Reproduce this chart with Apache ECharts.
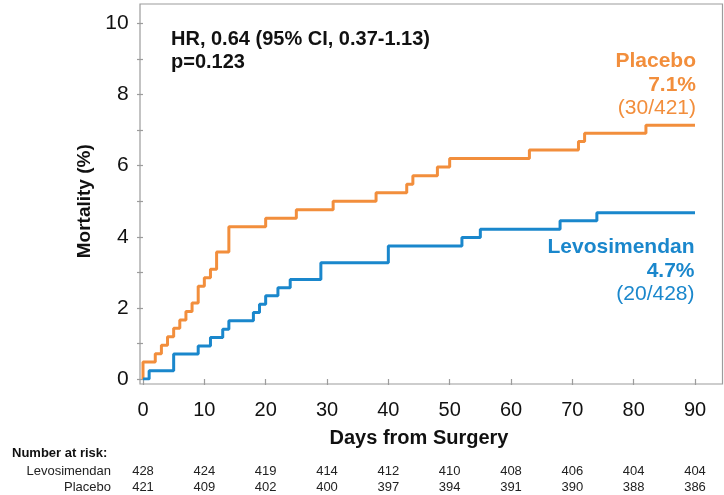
<!DOCTYPE html>
<html>
<head>
<meta charset="utf-8">
<script src="https://cdn.jsdelivr.net/npm/echarts@6/dist/echarts.min.js"></script>
<style>
  html, body { margin: 0; padding: 0; background: #fff; }
  #chart { width: 724px; height: 495px; }
</style>
</head>
<body>
<div id="chart"></div>
<script>
// Kaplan-Meier cumulative mortality (%), step changes by day after surgery
const placeboDays = [0, 0, 2, 3, 4, 5, 6, 7, 8, 9, 10, 11, 12, 14, 20, 25, 31, 38, 43, 44, 48, 50, 63, 71, 72, 82, 90];
const placeboMortality = [0, 0.48, 0.71, 0.95, 1.19, 1.43, 1.66, 1.90, 2.14, 2.61, 2.85, 3.09, 3.57, 4.28, 4.52, 4.76, 5.00, 5.24, 5.48, 5.72, 5.96, 6.20, 6.44, 6.68, 6.91, 7.14, 7.14];

const levoDays = [0, 1, 5, 9, 11, 13, 14, 18, 19, 20, 22, 24, 29, 40, 52, 55, 68, 74, 90];
const levoMortality = [0, 0.23, 0.70, 0.93, 1.17, 1.40, 1.64, 1.87, 2.10, 2.34, 2.57, 2.80, 3.27, 3.74, 3.98, 4.21, 4.45, 4.68, 4.68];

// Number at risk at days 0, 10, ..., 90
const riskDays = [0, 10, 20, 30, 40, 50, 60, 70, 80, 90];
const levoAtRisk = [428, 424, 419, 414, 412, 410, 408, 406, 404, 404];
const placeboAtRisk = [421, 409, 402, 400, 397, 394, 391, 390, 388, 386];

const ORANGE = '#F28E3C';
const BLUE = '#1A87CC';
const GRAY = '#9c9c9c';
const FONT = '"Liberation Sans", Arial, Helvetica, sans-serif';

const zip = (xs, ys) => xs.map((x, i) => [x, ys[i]]);
const riskLabel = (arr) => (v) => {
  const i = riskDays.indexOf(Math.round(v));
  return i >= 0 ? String(arr[i]) : '';
};

const riskAxis = (name, arr, offset) => ({
  gridIndex: 0, type: 'value', min: 0, max: 90, interval: 10,
  position: 'bottom', offset: offset,
  axisLine: { show: false }, axisTick: { show: false }, splitLine: { show: false },
  axisLabel: {
    formatter: riskLabel(arr), margin: 0, verticalAlign: 'middle',
    fontFamily: FONT, fontSize: 13, color: '#222'
  },
  name: name, nameLocation: 'start', nameGap: 32,
  nameTextStyle: { fontFamily: FONT, fontSize: 13, color: '#222', verticalAlign: 'middle', align: 'right' }
});

const chart = echarts.init(document.getElementById('chart'), null, { renderer: 'canvas' });
chart.setOption({
  animation: false,
  backgroundColor: '#fff',
  textStyle: { fontFamily: FONT },
  grid: [
    { left: 143, width: 552, top: 23.5, height: 355.5, show: false },
    // plot frame
    { left: 140, right: 1.5, top: 4, bottom: 111, show: true,
      borderColor: GRAY, borderWidth: 1.2, backgroundColor: 'transparent' }
  ],
  xAxis: [
    {
      gridIndex: 0, type: 'value', min: 0, max: 90, interval: 10, offset: 5,
      axisLine: { show: false },
      axisTick: { show: true, length: 6, lineStyle: { color: GRAY, width: 1.2 } },
      splitLine: { show: false },
      axisLabel: { fontFamily: FONT, fontSize: 20, color: '#111', margin: 16 },
      name: 'Days from Surgery', nameLocation: 'middle', nameGap: 44,
      nameTextStyle: { fontFamily: FONT, fontSize: 20, fontWeight: 'bold', color: '#111' }
    },
    riskAxis('Levosimendan', levoAtRisk, 92),
    riskAxis('Placebo', placeboAtRisk, 108),
    { gridIndex: 1, type: 'value', show: false }
  ],
  yAxis: [
    {
      gridIndex: 0, type: 'value', min: 0, max: 10, interval: 2, offset: 3.3,
      axisLine: { show: false },
      axisTick: { show: true, length: 6, lineStyle: { color: GRAY, width: 1.2 } },
      minorTick: { show: true, splitNumber: 2, length: 6, lineStyle: { color: GRAY, width: 1.2 } },
      splitLine: { show: false }, minorSplitLine: { show: false },
      axisLabel: { fontFamily: FONT, fontSize: 21, color: '#111', margin: 11 },
      name: 'Mortality (%)', nameLocation: 'middle', nameGap: 42,
      nameTextStyle: { fontFamily: FONT, fontSize: 19, fontWeight: 'bold', color: '#111' }
    },
    { gridIndex: 1, type: 'value', show: false }
  ],
  series: [
    {
      name: 'Placebo', type: 'line', xAxisIndex: 0, yAxisIndex: 0,
      step: 'end', showSymbol: false, symbol: 'none',
      lineStyle: { color: ORANGE, width: 3 },
      data: zip(placeboDays, placeboMortality), z: 3
    },
    {
      name: 'Levosimendan', type: 'line', xAxisIndex: 0, yAxisIndex: 0,
      step: 'end', showSymbol: false, symbol: 'none',
      lineStyle: { color: BLUE, width: 3 },
      data: zip(levoDays, levoMortality), z: 4
    }
  ],
  graphic: [
    {
      type: 'text', left: 171, top: 28,
      style: {
        text: 'HR, 0.64 (95% CI, 0.37-1.13)\np=0.123',
        fontFamily: FONT, fontSize: 20, fontWeight: 'bold', fill: '#111', lineHeight: 23
      }
    },
    {
      type: 'text', right: 28, top: 51,
      style: {
        text: '{b|Placebo}\n{b|7.1%}\n{n|(30/421)}',
        align: 'right',
        rich: {
          b: { fontFamily: FONT, fontSize: 21, fontWeight: 'bold', fill: ORANGE, color: ORANGE, lineHeight: 23.5, align: 'right' },
          n: { fontFamily: FONT, fontSize: 21, fill: ORANGE, color: ORANGE, lineHeight: 23.5, align: 'right' }
        }
      }
    },
    {
      type: 'text', right: 29.5, top: 237,
      style: {
        text: '{b|Levosimendan}\n{b|4.7%}\n{n|(20/428)}',
        align: 'right',
        rich: {
          b: { fontFamily: FONT, fontSize: 21, fontWeight: 'bold', fill: BLUE, color: BLUE, lineHeight: 23.5, align: 'right' },
          n: { fontFamily: FONT, fontSize: 21, fill: BLUE, color: BLUE, lineHeight: 23.5, align: 'right' }
        }
      }
    },
    {
      type: 'text', left: 12, top: 447,
      style: { text: 'Number at risk:', fontFamily: FONT, fontSize: 13, fontWeight: 'bold', fill: '#111' }
    }
  ]
});
</script>
</body>
</html>
